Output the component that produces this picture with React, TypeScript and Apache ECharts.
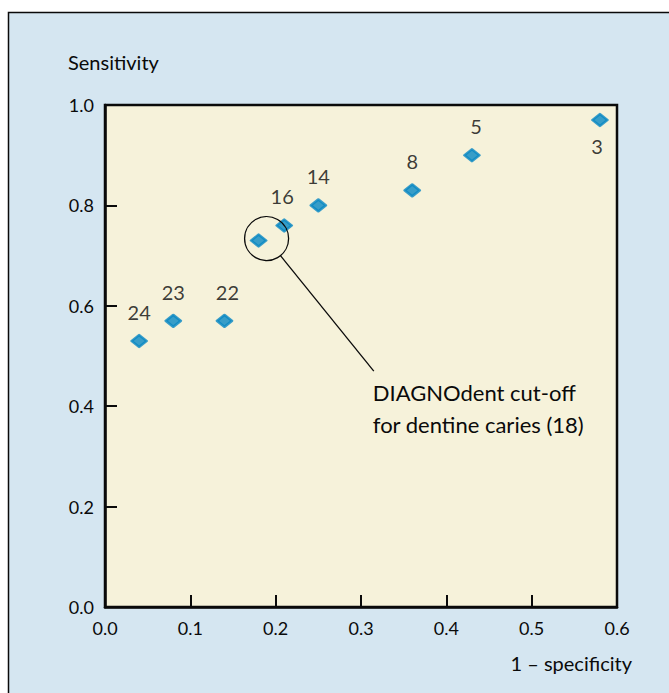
import React, { useEffect, useRef } from "react";
import * as echarts from "echarts";

const pointIds = ["24", "23", "22", "18", "16", "14", "8", "5", "3"];
const falsePositiveRate = [0.04, 0.08, 0.14, 0.18, 0.21, 0.25, 0.36, 0.43, 0.58];
const sensitivity = [0.53, 0.57, 0.57, 0.73, 0.76, 0.8, 0.83, 0.9, 0.97];
const xTicks = [0, 0.1, 0.2, 0.3, 0.4, 0.5, 0.6];
const yTicks = [0, 0.2, 0.4, 0.6, 0.8, 1.0];
const highlighted = "18";
const annotationLines = ["DIAGNOdent cut-off", "for dentine caries (18)"];

const FONT = "Lato, 'Open Sans', sans-serif";
const BLUE = "#0787c3";
const INK = "#0a0a0a";

export default function App() {
  const ref = useRef<HTMLDivElement>(null);
  useEffect(() => {
    if (!ref.current) return;
    const chart = echarts.init(ref.current, null, { renderer: "svg" });
    const data = pointIds.map((id, i) => {
      const item: any = { value: [falsePositiveRate[i], sensitivity[i]], name: id };
      if (id === highlighted) {
        item.label = { show: false };
      } else if (id === "3") {
        item.label = { position: "bottom", distance: 9, offset: [-3, 0] };
      } else if (id === "22") {
        item.label = { offset: [3, 0] };
      } else if (id === "5") {
        item.label = { offset: [4, 0] };
      } else if (id === "16") {
        item.label = { offset: [-2, 0] };
      }
      return item;
    });
    const option: any = {
      animation: false,
      backgroundColor: "#ffffff",
      textStyle: { fontFamily: FONT },
      grid: {
        left: 105,
        top: 105,
        width: 512,
        height: 502,
        show: true,
        backgroundColor: "#f6f2da",
        borderColor: INK,
        borderWidth: 2.5,
      },
      xAxis: {
        type: "value",
        min: xTicks[0],
        max: xTicks[xTicks.length - 1],
        interval: 0.1,
        axisLine: { show: true, lineStyle: { color: INK, width: 2.5 } },
        axisTick: { show: true, inside: true, length: 12, lineStyle: { color: INK, width: 2 } },
        axisLabel: {
          color: INK,
          fontSize: 18,
          fontFamily: FONT,
          margin: 12,
          formatter: (v: number) => v.toFixed(1),
        },
        splitLine: { show: false },
      },
      yAxis: {
        type: "value",
        min: yTicks[0],
        max: yTicks[yTicks.length - 1],
        interval: 0.2,
        axisLine: { show: true, lineStyle: { color: INK, width: 2.5 } },
        axisTick: { show: true, inside: true, length: 12, lineStyle: { color: INK, width: 2 } },
        axisLabel: {
          color: INK,
          fontSize: 18,
          fontFamily: FONT,
          margin: 11,
          formatter: (v: number) => v.toFixed(1),
        },
        splitLine: { show: false },
      },
      series: [
        {
          type: "scatter",
          symbol: "diamond",
          symbolSize: [15, 12],
          itemStyle: { color: BLUE, borderColor: BLUE, borderWidth: 2.5, borderJoin: "round" },
          label: {
            show: true,
            position: "top",
            distance: 12,
            color: INK,
            fontSize: 20,
            fontFamily: FONT,
            formatter: (p: any) => p.name,
          },
          data,
        },
      ],
    };
    chart.setOption(option);

    const hi = pointIds.indexOf(highlighted);
    const c = chart.convertToPixel({ gridIndex: 0 }, [falsePositiveRate[hi], sensitivity[hi]]) as number[];
    const cx = c[0] + 8;
    const cy = c[1] - 2;
    const r = 22;
    const end = chart.convertToPixel({ gridIndex: 0 }, [0.315, 0.47]) as number[];
    const ang = Math.atan2(end[1] - cy, end[0] - cx);
    const sx = cx + r * Math.cos(ang);
    const sy = cy + r * Math.sin(ang);

    chart.setOption({
      graphic: [
        {
          type: "rect",
          z: -10,
          silent: true,
          shape: { x: 8.5, y: 12.5, width: 700, height: 700 },
          style: { fill: "#d5e6f1", stroke: INK, lineWidth: 1.5 },
        },
        {
          type: "text",
          x: 68,
          y: 62,
          style: {
            text: "Sensitivity",
            fill: INK,
            font: `20px ${FONT}`,
            textAlign: "left",
            textVerticalAlign: "middle",
          },
        },
        {
          type: "text",
          x: 632,
          y: 663,
          style: {
            text: "1 – specificity",
            fill: INK,
            font: `20px ${FONT}`,
            textAlign: "right",
            textVerticalAlign: "middle",
          },
        },
        {
          type: "circle",
          z: 10,
          shape: { cx, cy, r },
          style: { fill: "none", stroke: INK, lineWidth: 1.3 },
        },
        {
          type: "line",
          z: 10,
          shape: { x1: sx, y1: sy, x2: end[0], y2: end[1] },
          style: { stroke: INK, lineWidth: 1.3 },
        },
        {
          type: "text",
          z: 10,
          x: end[0] - 1,
          y: end[1] + 21,
          style: {
            text: annotationLines[0],
            fill: INK,
            font: `22px ${FONT}`,
            textAlign: "left",
            textVerticalAlign: "middle",
          },
        },
        {
          type: "text",
          z: 10,
          x: end[0] - 1,
          y: end[1] + 53,
          style: {
            text: annotationLines[1],
            fill: INK,
            font: `22px ${FONT}`,
            textAlign: "left",
            textVerticalAlign: "middle",
          },
        },
      ],
    });
    return () => chart.dispose();
  }, []);
  return (
    <div
      ref={ref}
      style={{ position: "fixed", left: 0, top: 0, width: 669, height: 693 }}
    />
  );
}
